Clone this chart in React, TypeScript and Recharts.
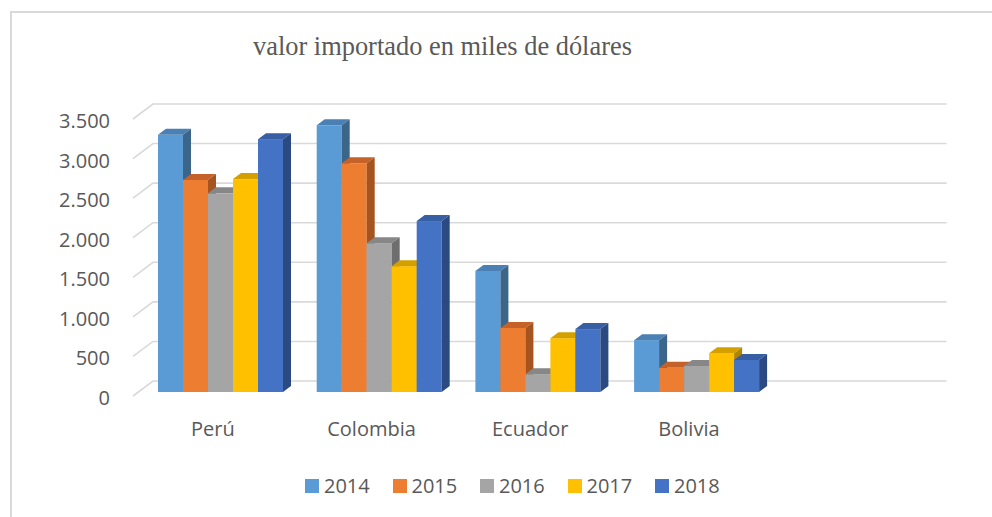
import React from 'react';
import { BarChart, Bar, XAxis, YAxis, CartesianGrid } from 'recharts';

const categories = ['Perú', 'Colombia', 'Ecuador', 'Bolivia', ''];
const seriesNames = ['2014', '2015', '2016', '2017', '2018'];
const values2014 = [3250, 3370, 1530, 655, null];
const values2015 = [2680, 2890, 810, 305, null];
const values2016 = [2510, 1880, 225, 330, null];
const values2017 = [2690, 1590, 680, 490, null];
const values2018 = [3195, 2160, 795, 405, null];
const yTicks = [0, 500, 1000, 1500, 2000, 2500, 3000, 3500];
const title = 'valor importado en miles de dólares';

const seriesValues = [values2014, values2015, values2016, values2017, values2018];
const frontColors = ['#5B9BD5', '#ED7D31', '#A5A5A5', '#FFC000', '#4472C4'];
const topColors = ['#4A80B3', '#C4622A', '#878787', '#D4A000', '#385FA3'];
const sideColors = ['#3B6589', '#A6541F', '#6E6E6E', '#B08500', '#2B4A82'];

const data = categories.map((c, i) => {
  const row: Record<string, any> = { name: c };
  seriesNames.forEach((s, k) => {
    row[s] = seriesValues[k][i];
  });
  return row;
});

const DX = 8;
const DY = -6;
const TEXT = '#595959';
const FONT = '"Open Sans", sans-serif';

const makeShape = (k: number) => (props: any) => {
  const { x, y, width, height, value } = props;
  if (value == null || !width || height == null) return <g />;
  const x2 = x + width;
  const yb = y + height;
  return (
    <g>
      <rect x={x} y={y} width={width} height={height} fill={frontColors[k]} />
      <polygon
        points={`${x},${y} ${x + DX},${y + DY} ${x2 + DX},${y + DY} ${x2},${y}`}
        fill={topColors[k]}
      />
      <polygon
        points={`${x2},${y} ${x2 + DX},${y + DY} ${x2 + DX},${yb + DY} ${x2},${yb}`}
        fill={sideColors[k]}
      />
    </g>
  );
};

const gridLine = (props: any) => {
  const { x1, x2, y1, index } = props;
  return (
    <path
      key={`g-${index}-${y1}`}
      d={`M${x1 - 7},${y1 + 4} L${x1 + 13},${y1 - 11} L${x2 + 13},${y1 - 11}`}
      fill="none"
      stroke="#D9D9D9"
      strokeWidth={1.6}
    />
  );
};

const YTick = (props: any) => {
  const { x, y, payload } = props;
  const label = Number(payload.value).toLocaleString('de-DE');
  return (
    <text x={x} y={y + 13} textAnchor="end" fill={TEXT} fontSize={20} fontFamily={FONT}>
      {label}
    </text>
  );
};

const XTick = (props: any) => {
  const { x, y, payload } = props;
  return (
    <text x={x - 6.5} y={y + 44} textAnchor="middle" fill={TEXT} fontSize={20} fontFamily={FONT}>
      {payload.value}
    </text>
  );
};

export default function App() {
  return (
    <div style={{ position: 'absolute', left: 0, top: 0, width: 992, height: 517, background: '#fff', overflow: 'hidden' }}>
      <div
        style={{
          position: 'absolute',
          left: 10,
          top: 11,
          width: 1000,
          height: 600,
          borderLeft: '2px solid #D9D9D9',
          borderTop: '2px solid #D9D9D9',
        }}
      />
      <div
        style={{
          position: 'absolute',
          left: 0,
          width: 885,
          top: 30,
          textAlign: 'center',
          fontFamily: '"Liberation Serif", "Times New Roman", serif',
          fontSize: 26.4,
          color: TEXT,
          lineHeight: '32px',
          whiteSpace: 'nowrap',
        }}
      >
        {title}
      </div>
      <div style={{ position: 'absolute', left: 0, top: 0 }}>
        <BarChart
          width={992}
          height={517}
          data={data}
          margin={{ top: 115, right: 58.5, bottom: 95, left: 40 }}
          barCategoryGap={18}
          barGap={0}
        >
          <CartesianGrid vertical={false} horizontal={gridLine} />
          <XAxis
            dataKey="name"
            axisLine={false}
            tickLine={false}
            tickSize={0}
            tickMargin={0}
            height={30}
            tick={<XTick />}
            interval={0}
          />
          <YAxis
            domain={[0, 3500]}
            ticks={yTicks}
            axisLine={false}
            tickLine={false}
            tickSize={0}
            tickMargin={30}
            width={100}
            tick={<YTick />}
            interval={0}
          />
          {seriesNames.map((s, k) => (
            <Bar key={s} dataKey={s} fill={frontColors[k]} isAnimationActive={false} shape={makeShape(k)} />
          ))}
        </BarChart>
      </div>
      <div style={{ position: 'absolute', left: 305, top: 474, display: 'flex' }}>
        {seriesNames.map((s, k) => (
          <div key={s} style={{ width: 87.5, display: 'flex', alignItems: 'center', height: 24 }}>
            <div style={{ width: 14, height: 14, background: frontColors[k], marginRight: 5 }} />
            <span style={{ fontFamily: FONT, fontSize: 20, color: TEXT, lineHeight: '24px' }}>{s}</span>
          </div>
        ))}
      </div>
    </div>
  );
}
